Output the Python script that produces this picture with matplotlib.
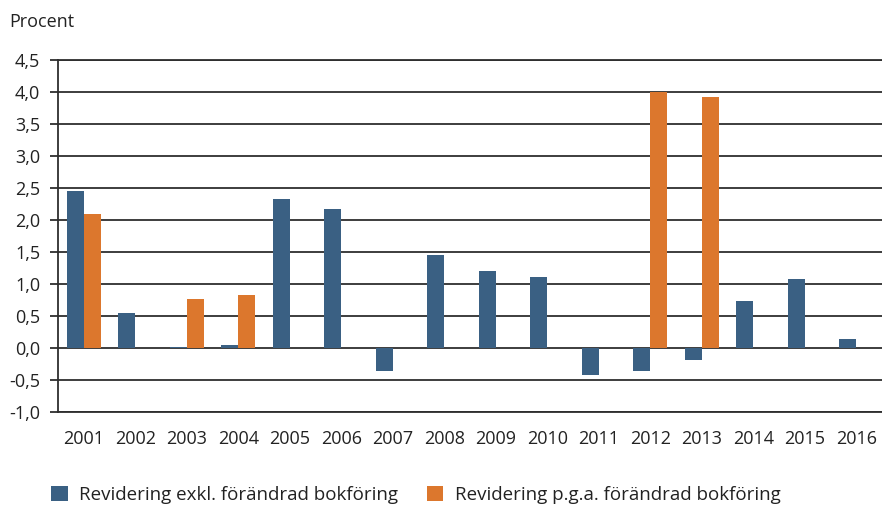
import numpy as np
import matplotlib
matplotlib.use("Agg")
import matplotlib.pyplot as plt
from matplotlib.patches import Patch

years = ["2001", "2002", "2003", "2004", "2005", "2006", "2007", "2008",
         "2009", "2010", "2011", "2012", "2013", "2014", "2015", "2016"]
exkl = [2.45, 0.55, 0.01, 0.04, 2.33, 2.17, -0.36, 1.45,
        1.20, 1.11, -0.42, -0.36, -0.19, 0.73, 1.07, 0.14]
pga = [2.10, 0.0, 0.77, 0.83, 0.0, 0.0, 0.0, 0.0,
       0.0, 0.0, 0.0, 4.00, 3.92, 0.0, 0.0, 0.0]
yticks = [-1.0, -0.5, 0.0, 0.5, 1.0, 1.5, 2.0, 2.5, 3.0, 3.5, 4.0, 4.5]
labels = ["Revidering exkl. förändrad bokföring",
          "Revidering p.g.a. förändrad bokföring"]

BLUE = "#3a6083"
ORANGE = "#dc772d"
GRID = "#2e2e2e"
TEXT = "#222222"

plt.rcParams["font.family"] = ["Open Sans", "DejaVu Sans"]
plt.rcParams["font.size"] = 13

fig = plt.figure(figsize=(8.82, 5.08), dpi=100)
ax = fig.add_axes([0.066, 0.189, 0.934, 0.693])

x = np.arange(len(years))
w = 0.33
ax.bar(x - w / 2, exkl, w, color=BLUE, zorder=3)
ax.bar(x + w / 2, pga, w, color=ORANGE, zorder=3)

ax.set_xlim(-0.5, len(years) - 0.5)
ax.set_ylim(-1.0, 4.5)
ax.set_yticks(yticks)
ax.set_yticklabels([f"{v:.1f}".replace(".", ",") for v in yticks], color=TEXT)
ax.set_xticks(x)
ax.set_xticklabels(years, color=TEXT)
ax.tick_params(axis="x", length=0, pad=13)
ax.tick_params(axis="y", length=6, width=1.3, color=GRID, pad=7)

ax.yaxis.grid(True, color=GRID, linewidth=1.3, zorder=0)
ax.set_axisbelow(True)
ax.spines["right"].set_visible(False)
for side in ["left", "top", "bottom"]:
    ax.spines[side].set_color(GRID)
    ax.spines[side].set_linewidth(1.3)

fig.text(0.011, 0.957, "Procent", fontsize=13, color=TEXT, va="center")

handles = [Patch(facecolor=BLUE), Patch(facecolor=ORANGE)]
fig.legend(handles, labels, loc="center left", bbox_to_anchor=(0.039, 0.026),
           ncol=2, frameon=False, handlelength=0.9, handleheight=0.9,
           handletextpad=0.6, columnspacing=1.5, fontsize=13.5,
           labelcolor=TEXT)

fig.savefig("out.png", dpi=100)
